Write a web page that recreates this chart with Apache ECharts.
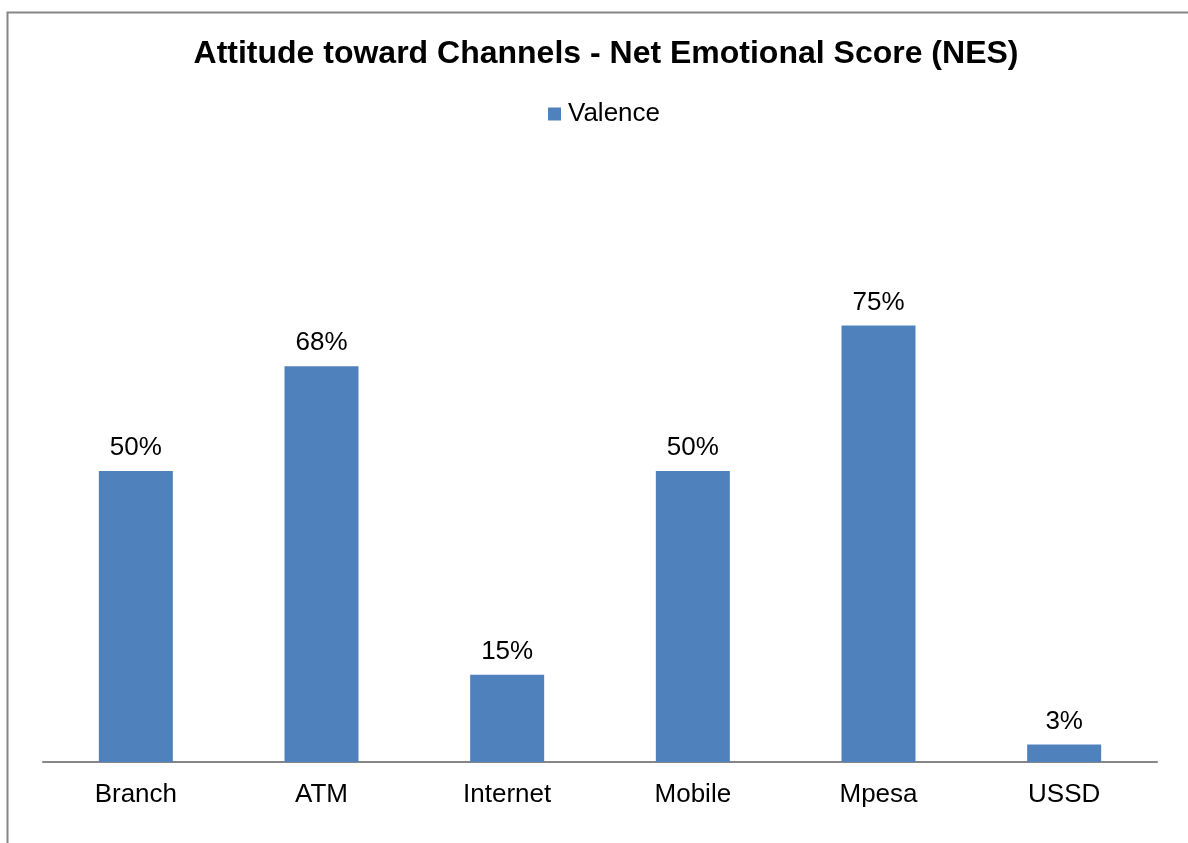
<!DOCTYPE html>
<html>
<head>
<meta charset="utf-8">
<style>
  html, body { margin: 0; padding: 0; background: #fff; }
  #chart { width: 1188px; height: 843px; }
</style>
<script src="https://cdn.jsdelivr.net/npm/echarts@6/dist/echarts.min.js"></script>
</head>
<body>
<div id="chart"></div>
<script>
// Net Emotional Score by channel (percent)
const channels = ['Branch', 'ATM', 'Internet', 'Mobile', 'Mpesa', 'USSD'];
const valence = [50, 68, 15, 50, 75, 3];

const chart = echarts.init(document.getElementById('chart'));
const font = 'Liberation Sans, Arial, sans-serif';

chart.setOption({
  backgroundColor: '#ffffff',
  animation: false,
  title: {
    text: 'Attitude toward Channels - Net Emotional Score (NES)',
    left: 601,
    textAlign: 'center',
    top: 33,
    textStyle: { fontFamily: font, fontSize: 32, fontWeight: 'bold', color: '#000' }
  },
  legend: {
    data: ['Valence'],
    left: 543,
    top: 96,
    itemWidth: 13,
    itemHeight: 13,
    itemGap: 6,
    icon: 'rect',
    textStyle: { fontFamily: font, fontSize: 26, color: '#000', padding: [0, 0, 0, 2] }
  },
  graphic: [
    {
      type: 'polyline',
      shape: { points: [[7.5, 900], [7.5, 12.5], [1300, 12.5]] },
      style: { stroke: '#868686', lineWidth: 2, fill: null },
      silent: true
    }
  ],
  grid: { left: 43, right: 31, top: 180, bottom: 81 },
  xAxis: {
    type: 'category',
    data: channels,
    axisLine: { lineStyle: { color: '#868686', width: 2 } },
    axisTick: { show: false },
    axisLabel: { fontFamily: font, fontSize: 26, color: '#000', margin: 20 }
  },
  yAxis: {
    type: 'value',
    min: 0,
    max: 100,
    show: false
  },
  series: [
    {
      name: 'Valence',
      type: 'bar',
      data: valence,
      barWidth: 74,
      itemStyle: { color: '#4f81bd' },
      label: {
        show: true,
        position: 'top',
        distance: 10,
        formatter: p => p.value + '%',
        fontFamily: font,
        fontSize: 26,
        color: '#000'
      }
    }
  ]
});
</script>
</body>
</html>
